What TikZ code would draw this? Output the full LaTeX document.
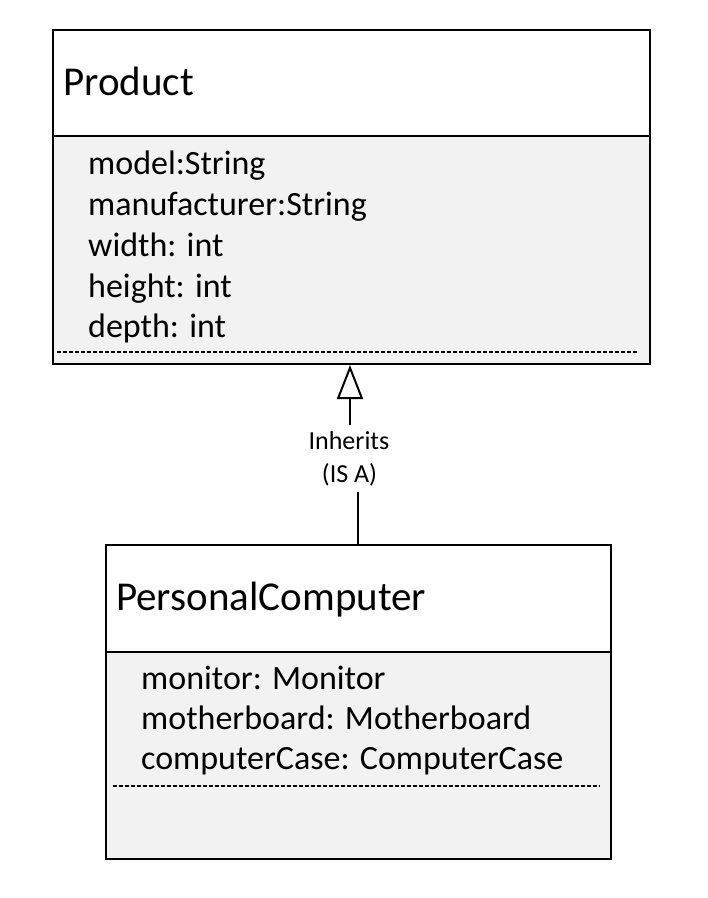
\documentclass[tikz,border=0pt]{standalone}
\usepackage{fontspec}
\setmainfont{Carlito}
\usetikzlibrary{arrows.meta}
\definecolor{compfill}{HTML}{F2F2F2}
\begin{document}
\begin{tikzpicture}[x=1pt,y=-1pt,
  box/.style={draw=black, line width=2pt, inner sep=0pt, anchor=north west},
  divline/.style={draw=black, line width=2pt},
  titletext/.style={anchor=base west, inner sep=0pt, font=\fontsize{41}{48}\selectfont},
  attrtext/.style={anchor=base west, inner sep=0pt, font=\fontsize{34}{40}\selectfont},
  lbltext/.style={anchor=base, inner sep=0pt, font=\fontsize{26}{32}\selectfont},
  sepline/.style={draw=black, line width=1.5pt, dash pattern=on 4pt off 2pt},
  link/.style={draw=black, line width=2pt},
]
\useasboundingbox (0,0) rectangle (708,898);
% ---------- Product ----------
\fill[compfill] (52,136) rectangle (649,363);
\node[box, minimum width=597pt, minimum height=334pt] (prod) at (52,29) {};
\draw[divline] (52,136) -- (649,136);
\node[titletext] (prodname) at (63,95) {Product};
\node[attrtext] (a1) at (88,174) {model:String};
\node[attrtext] (a2) at (88,215) {manufacturer:String};
\node[attrtext] (a3) at (88,256) {width: int};
\node[attrtext] (a4) at (88,297) {height: int};
\node[attrtext] (a5) at (88,337) {depth: int};
\draw[sepline] (57,352) -- (638,352);
% ---------- PersonalComputer ----------
\fill[compfill] (105,652) rectangle (610,858);
\node[box, minimum width=505pt, minimum height=314pt] (pc) at (105,544) {};
\draw[divline] (105,652) -- (610,652);
\node[titletext] (pcname) at (116,610) {PersonalComputer};
\node[attrtext] (b1) at (141,689) {monitor: Monitor};
\node[attrtext] (b2) at (141,729) {motherboard: Motherboard};
\node[attrtext] (b3) at (141,769) {computerCase: ComputerCase};
\draw[sepline] (113,786) -- (600,786);
% ---------- Inheritance ----------
\node[lbltext] (inh) at (349,449) {Inherits};
\node[lbltext] (isa) at (349.5,482) {(IS A)};
\coordinate (uptail) at (350,425);
\coordinate (lowtop) at (358,492);
\draw[link, -{Triangle[open, length=34pt, width=26pt, fill=white]}] (uptail) -- (uptail |- prod.south);
\draw[link] (lowtop) -- (lowtop |- pc.north);
\end{tikzpicture}
\end{document}
